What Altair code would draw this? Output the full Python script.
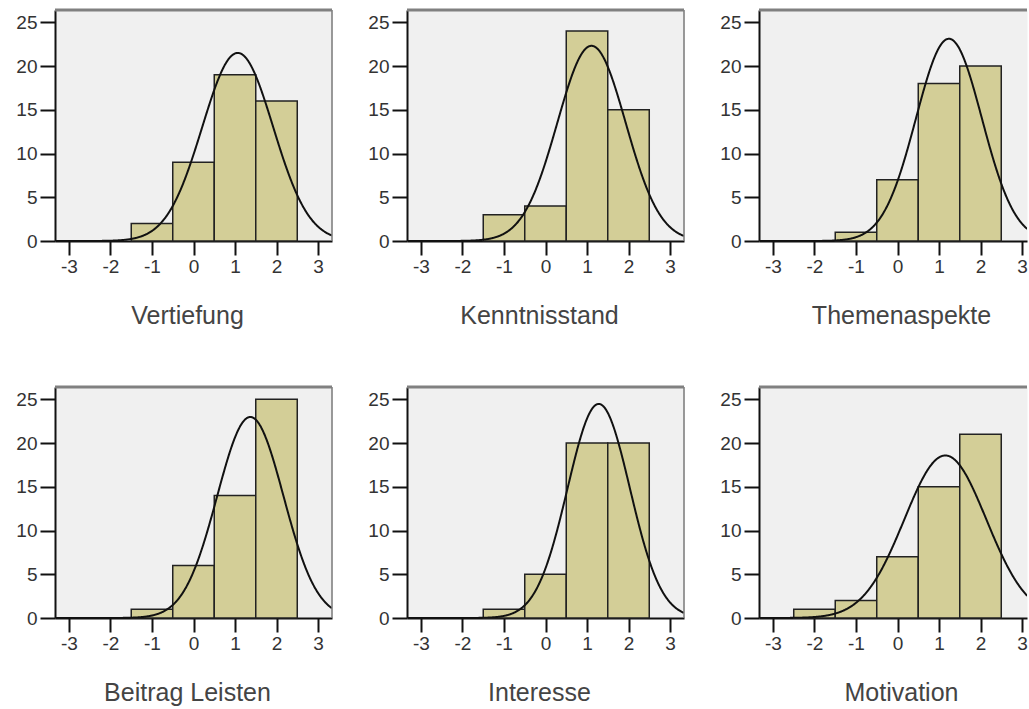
import altair as alt
import pandas as pd
import numpy as np

# ---- data ----
bins = [-2, -1, 0, 1, 2]
names = ["Vertiefung", "Kenntnisstand", "Themenaspekte",
         "Beitrag Leisten", "Interesse", "Motivation"]
vertiefung = [0, 2, 9, 19, 16]
kenntnisstand = [0, 3, 4, 24, 15]
themenaspekte = [0, 1, 7, 18, 20]
beitrag_leisten = [0, 1, 6, 14, 25]
interesse = [0, 1, 5, 20, 20]
motivation = [1, 2, 7, 15, 21]
all_counts = [vertiefung, kenntnisstand, themenaspekte,
              beitrag_leisten, interesse, motivation]

x_ticks = [-3, -2, -1, 0, 1, 2, 3]
y_ticks = [0, 5, 10, 15, 20, 25]

# ---- style ----
FONT = "Liberation Sans"
BAR_FILL = "#d3ce97"
BG = "#f0f0f0"
W, H = 277, 231
PX_PER_UNIT = W / 6.674
XMIN = -3.337
YDOM = [0, 26.4]


def panel(name, counts, width, right_border, title_x):
    df = pd.DataFrame({"bin": bins, "count": counts})
    df = df[df["count"] > 0]
    arr = np.repeat(np.array(bins, dtype=float), counts)
    n = len(arr)
    m = float(arr.mean())
    s = float(arr.std(ddof=1))
    xmax = XMIN + width / PX_PER_UNIT

    xscale = alt.Scale(domain=[XMIN, xmax], nice=False, zero=False)
    yscale = alt.Scale(domain=YDOM, nice=False)
    xaxis = alt.Axis(values=x_ticks, labelExpr="'' + datum.value",
                     title=name, grid=False,
                     domainColor="#111", domainWidth=2,
                     tickColor="#111", tickWidth=2, tickSize=14,
                     labelFontSize=19, labelColor="#333", labelPadding=2,
                     labelFont=FONT, titleFont=FONT, titleFontSize=25,
                     titleFontWeight="normal", titleColor="#444",
                     titlePadding=27, titleX=title_x)
    yaxis = alt.Axis(values=y_ticks, labelExpr="'' + datum.value",
                     title=None, grid=False,
                     domainColor="#111", domainWidth=2,
                     tickColor="#111", tickWidth=2, tickSize=15,
                     labelFontSize=19, labelColor="#333", labelPadding=3,
                     labelFont=FONT)

    bars = alt.Chart(df).transform_calculate(
        lo="datum.bin - 0.5", hi="datum.bin + 0.5", base="0"
    ).mark_rect(fill=BAR_FILL, stroke="#222", strokeWidth=1.5).encode(
        x=alt.X("lo:Q", scale=xscale, axis=xaxis),
        x2="hi:Q",
        y=alt.Y("count:Q", scale=yscale, axis=yaxis),
        y2="base:Q",
    )

    curve = alt.Chart(alt.sequence(XMIN, xmax + 0.005, 0.01, as_="x")).transform_calculate(
        y=f"{n} * densityNormal(datum.x, {m}, {s})"
    ).mark_line(color="#111", strokeWidth=2, clip=True).encode(
        x=alt.X("x:Q", scale=xscale),
        y=alt.Y("y:Q", scale=yscale),
    )

    layers = [bars, curve]
    if right_border:
        layers.append(alt.Chart(pd.DataFrame({"a": [0]})).mark_rule(
            color="#7a7a7a", strokeWidth=1.5
        ).encode(x=alt.value(width), y=alt.value(0), y2=alt.value(H)))
    layers.append(alt.Chart(pd.DataFrame({"a": [0]})).mark_rule(
        color="#808080", strokeWidth=3
    ).encode(x=alt.value(0), x2=alt.value(width), y=alt.value(0)))

    return alt.layer(*layers).properties(width=width, height=H)


W3 = 268
widths = [W, W, W3, W, W, W3]
borders = [True, True, False, True, True, False]
title_xs = [132, 132, 142, 132, 132, 142]
panels = [panel(nm, c, w, b, tx) for nm, c, w, b, tx
          in zip(names, all_counts, widths, borders, title_xs)]
row1 = alt.hconcat(*panels[:3], spacing=75, bounds="flush")
row2 = alt.hconcat(*panels[3:], spacing=75, bounds="flush")

chart = alt.vconcat(row1, row2, spacing=56).properties(
    padding={"left": 15, "top": 8, "right": 0, "bottom": 0},
    background="white",
).configure_view(
    fill=BG, stroke="transparent"
)

chart.save("out.html", embed_options={"renderer": "svg", "actions": False})
